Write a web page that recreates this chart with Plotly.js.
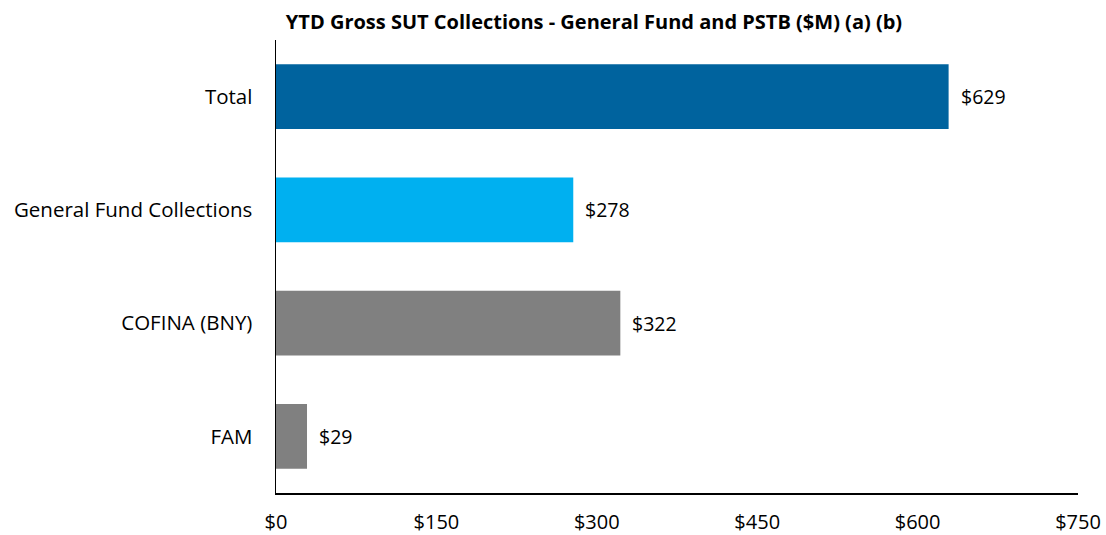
<!DOCTYPE html>
<html>
<head>
<meta charset="utf-8">
<script src="https://cdn.plot.ly/plotly-3.0.1.min.js"></script>
<style>html,body{margin:0;padding:0;background:#fff;}#chart{width:1106px;height:535px;}</style>
</head>
<body>
<div id="chart"></div>
<script>
const categories = ["Total", "General Fund Collections", "COFINA (BNY)", "FAM"];
const values = [629, 278, 322, 29];
const barColors = ["#00639E", "#00B0F0", "#808080", "#808080"];
const tickVals = [0, 150, 300, 450, 600, 750];
const tickText = ["$0", "$150", "$300", "$450", "$600", "$750"];

const FONT = "'Open Sans', sans-serif";

const trace = {
  type: "bar",
  orientation: "h",
  y: categories,
  x: values,
  marker: {color: barColors},
  width: 0.57,
  cliponaxis: false,
  hoverinfo: "none"
};

const annotations = categories.map((c, i) => ({
  x: values[i], y: c, xref: "x", yref: "y",
  text: "$" + values[i],
  showarrow: false,
  xanchor: "left", yanchor: "middle",
  xshift: 10,
  font: {family: FONT, size: 19.5, color: "#000"}
}));

const layout = {
  width: 1106,
  height: 535,
  margin: {l: 276, r: 28, t: 40, b: 42},
  paper_bgcolor: "#fff",
  plot_bgcolor: "#fff",
  showlegend: false,
  annotations: annotations,
  title: {
    text: "<b>YTD Gross SUT Collections - General Fund and PSTB ($M) (a) (b)</b>",
    font: {family: FONT, size: 20, color: "#000"},
    x: 594 / 1106, xanchor: "center", xref: "container",
    y: 1 - 22 / 535, yanchor: "middle", yref: "container"
  },
  xaxis: {
    range: [0, 750],
    tickvals: tickVals,
    ticktext: tickText,
    showgrid: false,
    zeroline: false,
    showline: true,
    linecolor: "#000",
    linewidth: 1.5,
    ticks: "",
    ticklabelstandoff: 10,
    tickfont: {family: FONT, size: 20, color: "#000"}
  },
  yaxis: {
    autorange: "reversed",
    showgrid: false,
    zeroline: false,
    showline: true,
    linecolor: "#000",
    linewidth: 1.5,
    ticks: "",
    ticklabelstandoff: 18,
    tickfont: {family: FONT, size: 20.5, color: "#000"}
  },
  bargap: 0.43
};

Plotly.newPlot("chart", [trace], layout, {staticPlot: true, displayModeBar: false});
</script>
</body>
</html>
